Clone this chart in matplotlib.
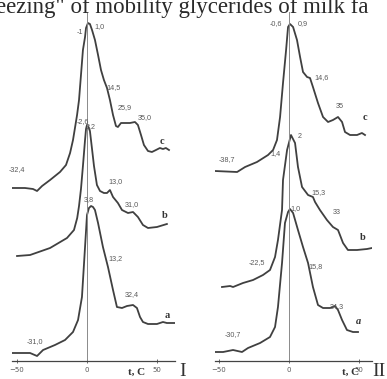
import numpy as np
import matplotlib.pyplot as plt

# Data (temperature, C  /  stacked heat-flow signal, arbitrary units)
# Panel I
t_1a = [-53.6, -40.7, -35.7, -31.4, -22.9, -15.7, -10, -6.4, -3.6, -1.4, 0, 1.4, 2.9, 4.3, 5.7, 7.9,
        11.4, 15, 18.6, 21.4, 25, 28.6, 32.9, 35.7, 37.9, 40, 43.6, 50, 54.3, 57.1, 62.9]
s_1a = [8, 8, 5, 11, 16, 21, 29, 41, 64, 114, 146, 153, 155, 154, 151, 138,
        114, 94, 71, 54, 53, 55, 56, 53, 44, 39, 37, 37, 39, 38, 38]

t_1b = [-50, -40.7, -26.4, -14.3, -9.3, -7, -5.7, -4.3, -2.9, -1.4, -0.7, 0, 0.7, 2.1, 3.6, 5, 7.1,
        9.3, 12.1, 14.3, 16.4, 18.6, 22.1, 25, 29.3, 32.9, 36.4, 40, 43.6, 50, 57.1]
s_1b = [105, 106, 113, 123, 131, 143, 155, 172, 195, 221, 232, 236, 235, 230, 212, 195, 176,
        170, 168, 168, 171, 164, 158, 151, 148, 149, 144, 136, 133, 134, 137]

t_1c = [-53.6, -44.3, -38.6, -35.7, -32.1, -26.4, -19.3, -15, -12.1, -10, -8.6, -7.1, -5.7, -4.3,
        -2.9, -1.4, -0.7, 0.7, 2.1, 3.6, 5.7, 7.9, 10, 12.1, 14.3, 16.4, 18.6, 20.7, 22.1, 24.3,
        30.7, 34.3, 36.4, 38.6, 40.7, 43.6, 46.4, 49.3, 52.1, 54.3, 56.4, 58.6]
s_1c = [173, 173, 172, 170, 175, 181, 189, 196, 208, 221, 233, 246, 261, 286,
        311, 324, 333, 338, 337, 331, 321, 306, 291, 281, 273, 261, 246, 235, 234, 238,
        238, 239, 236, 226, 216, 210, 209, 211, 213, 212, 213, 211]

# Panel II
t_2a = [-52.9, -47.1, -40, -33.6, -29.3, -20.7, -13.6, -10, -7.9, -5, -2.9, -0.7, 0.7, 2.9, 6.4,
        10, 13.6, 17.1, 20.7, 24.3, 29.3, 32.9, 35, 37.9, 41.4, 45.7, 49.3]
s_2a = [9, 9, 11, 9, 13, 18, 24, 34, 54, 98, 138, 149, 152, 148, 131,
        114, 98, 74, 56, 53, 53, 55, 51, 41, 31, 29, 29]

t_2b = [-47.9, -42.1, -40, -32.9, -25.7, -18.6, -13.6, -10, -7.9, -5, -4.3, -1.4, 1.4, 4.3, 6.4,
        9.3, 13.6, 17.1, 18.6, 22.1, 27.1, 31.4, 35, 36.4, 38.6, 42.1, 48.6, 55.7, 59.3]
s_2b = [74, 75, 74, 78, 81, 86, 91, 104, 121, 151, 181, 211, 226, 218, 194,
        174, 166, 164, 159, 151, 141, 134, 131, 126, 118, 111, 111, 112, 113]

t_2c = [-52.9, -37.1, -31.4, -22.9, -15, -11.4, -8.6, -6.4, -4.3, -2.1, -0.7, 0.7, 2.9, 5.7, 7.9,
        10, 12.9, 15, 17.1, 20.7, 24.3, 27.9, 31.4, 35, 37.9, 40, 43.6, 48.6, 52.1, 54.3]
s_2c = [190, 189, 194, 199, 206, 211, 221, 244, 278, 311, 334, 337, 334, 321, 304,
        289, 284, 283, 274, 258, 244, 239, 241, 244, 239, 229, 226, 226, 228, 226]

# Peak labels (text, t, signal position)
labels_1 = [('-1', -5, 329), ('1,0', 8.6, 334), ('14,5', 18.6, 273), ('25,9', 27.1, 253),
            ('35,0', 41.4, 243), ('-32,4', -50, 191),
            ('-2,6', -2.9, 239), ('3,2', 2.6, 234), ('13,0', 20, 179), ('31,0', 32.1, 156),
            ('3,8', 1.4, 161), ('13,2', 20, 102), ('32,4', 32.1, 66), ('-31,0', -37.1, 19)]
labels_2 = [('-0,6', -9.3, 337), ('0,9', 10, 337), ('14,6', 23.6, 283), ('35', 36.4, 255),
            ('-38,7', -44.3, 201), ('1,4', -9.3, 207), ('2', 7.9, 224),
            ('15,3', 20.7, 168), ('33', 34.3, 148), ('-22,5', -22.9, 98),
            ('1,0', 4.3, 152), ('15,8', 18.6, 94), ('34,3', 34.3, 54), ('-30,7', -40, 26)]
letters_1 = [('c', 53.6, 219), ('b', 55.7, 146), ('a', 57.1, 46)]
letters_2 = [('c', 54.3, 243), ('b', 52.9, 123), ('a', 49.3, 39)]

# Plot parameters
W, H = 387, 379
color_line = '#404040'
color_text = '#5a5a5a'
width_line = 1.3
fontsize_label = 5.2

fig = plt.figure(figsize=(W / 100, H / 100), dpi=100)
fig.patch.set_facecolor('white')

# title fragment (cropped scan)
fig.text(-4 / W, 1 - 13 / H, 'eezing" of mobility glycerides of milk fa',
         family='Liberation Serif', fontsize=16.5, color='#2a2a2a', va='baseline', ha='left')


def make_panel(rect, xlim, curves, labels, letters, roman, tc_x, roman_x):
    ax = fig.add_axes(rect)
    ax.set_xlim(xlim)
    ax.set_ylim(0, 349)
    for t, s in curves:
        ax.plot(t, s, color=color_line, lw=width_line, solid_joinstyle='round')
    ax.axvline(0, color='#8a8a8a', lw=0.7, ymax=1.0)
    for txt, x, y in labels:
        ax.text(x, y, txt, fontsize=fontsize_label, color=color_text,
                family='Liberation Sans', ha='center', va='center')
    for txt, x, y in letters:
        ax.text(x, y, txt, fontsize=7.5, color='#333333', family='Liberation Serif',
                fontweight='bold', style='italic' if roman == 'II' and txt == 'a' else 'normal',
                ha='center', va='center')
    for sp in ['top', 'left', 'right']:
        ax.spines[sp].set_visible(False)
    ax.spines['bottom'].set_color('#444444')
    ax.spines['bottom'].set_linewidth(0.9)
    ax.set_yticks([])
    ax.set_xticks([-50, 0, 50])
    ax.tick_params(axis='x', direction='inout', length=3, width=0.6, color='#555555',
                   labelsize=5, labelcolor=color_text, pad=3)
    ax.patch.set_alpha(0)
    fig.text(tc_x / W, 1 - 372 / H, 't, C', family='Liberation Serif', fontweight='bold',
             fontsize=8, color='#333333', ha='center', va='center')
    fig.text(roman_x / W, 1 - 371 / H, roman, family='Liberation Serif',
             fontsize=14, color='#333333', ha='center', va='center')
    return ax


bottom = (H - 361) / H
height = 349 / H
make_panel([12 / W, bottom, 163 / W, height], (-53.6, 62.9),
           [(t_1a, s_1a), (t_1b, s_1b), (t_1c, s_1c)], labels_1, letters_1, 'I', 137, 183)
make_panel([215 / W, bottom, 157 / W, height], (-52.9, 59.3),
           [(t_2a, s_2a), (t_2b, s_2b), (t_2c, s_2c)], labels_2, letters_2, 'II', 351, 379)

fig.savefig('out.png', dpi=100)
